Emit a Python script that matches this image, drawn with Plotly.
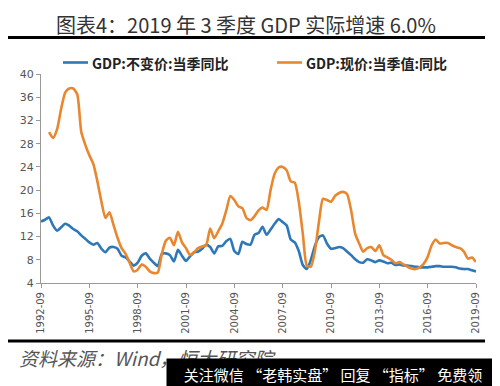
import plotly.graph_objects as go

# ---- data ----
quarters = []
y, m = 1992, 9
for _ in range(109):
    quarters.append(f"{y}-{m:02d}")
    m += 3
    if m > 12:
        m -= 12
        y += 1

real_gdp = [14.6, 14.9, 15.3, 13.9, 13.0, 13.6, 14.2, 13.9, 13.3, 12.9,
            12.2, 11.6, 11.0, 10.6, 10.9, 9.9, 9.3, 10.1, 10.2, 9.9,
            8.7, 8.4, 7.7, 7.0, 7.5, 8.7, 9.1, 8.2, 7.5, 6.9,
            9.0, 9.1, 8.8, 7.7, 9.7, 8.7, 7.8, 8.6, 9.3, 9.4,
            9.9, 10.6, 10.2, 9.1, 10.3, 10.4, 11.2, 11.6, 9.5, 9.0,
            11.1, 10.7, 10.6, 12.3, 12.6, 13.7, 12.3, 13.2, 14.2, 15.0,
            14.5, 13.9, 11.5, 11.0, 9.5, 7.1, 6.4, 8.0, 10.4, 11.9,
            12.2, 10.8, 9.9, 10.0, 10.2, 10.0, 9.4, 8.8, 8.1, 7.6,
            7.5, 8.1, 7.9, 7.6, 7.9, 7.7, 7.4, 7.5, 7.1, 7.2,
            7.0, 7.0, 6.9, 6.8, 6.7, 6.7, 6.7, 6.8, 6.9, 6.9,
            6.8, 6.8, 6.8, 6.7, 6.5, 6.4, 6.4, 6.2, 6.0]

nominal_gdp = [None, None, 30.0, 29.0, 30.5, 34.0, 36.8, 37.5, 37.5, 36.5,
               30.0, 27.8, 26.0, 24.5, 21.5, 18.0, 15.2, 16.2, 14.0, 11.8,
               10.0, 9.0, 7.5, 6.0, 6.3, 7.2, 6.8, 6.0, 5.7, 5.8,
               9.0, 11.3, 11.8, 10.5, 12.8, 11.0, 10.0, 8.8, 9.3, 10.0,
               10.3, 10.5, 13.4, 11.7, 12.9, 14.2, 16.5, 19.0, 18.3, 17.2,
               16.9, 15.2, 14.8, 15.5, 16.5, 17.0, 16.6, 20.0, 22.8, 23.9,
               24.0, 23.4, 21.5, 21.3, 18.0, 12.5, 7.0, 6.8, 9.5, 14.5,
               18.5, 18.3, 18.0, 19.0, 19.5, 19.7, 19.3, 16.5, 12.5, 10.8,
               9.4, 10.0, 10.2, 9.5, 10.5, 8.8, 8.4, 8.0, 7.4, 7.6,
               7.2, 6.8, 6.5, 6.4, 6.7, 7.3, 8.5, 10.5, 11.5, 10.8,
               10.9, 10.9, 10.5, 10.2, 10.0, 9.4, 8.2, 8.4, 7.6]

series_names = ["GDP:不变价:当季同比", "GDP:现价:当季值:同比"]
tick_labels = ["1992-09", "1995-09", "1998-09", "2001-09", "2004-09",
               "2007-09", "2010-09", "2013-09", "2016-09", "2019-09"]
y_ticks = [4, 8, 12, 16, 20, 24, 28, 32, 36, 40]

BLUE = "#2E78B7"
ORANGE = "#E8872F"
CJK = "Noto Sans CJK SC"

fig = go.Figure()
fig.add_trace(go.Scatter(x=quarters, y=real_gdp, mode="lines",
                         name=series_names[0],
                         line=dict(color=BLUE, width=2.6, shape="spline", smoothing=0.6)))
fig.add_trace(go.Scatter(x=quarters, y=nominal_gdp, mode="lines",
                         name=series_names[1],
                         line=dict(color=ORANGE, width=2.6, shape="spline", smoothing=0.6)))

# page body adds an 8px offset, margins compensate for it
fig.update_layout(
    width=500, height=386,
    margin=dict(l=33, r=32, t=66, b=111),
    paper_bgcolor="white", plot_bgcolor="white",
    showlegend=False,
    xaxis=dict(type="category", range=[0, 108],
               tickmode="array", tickvals=tick_labels, ticktext=tick_labels,
               tickangle=-90, ticks="outside", ticklen=4, tickcolor="#999",
               showline=True, linecolor="#999", linewidth=1,
               showgrid=False, zeroline=False,
               tickfont=dict(family="DejaVu Sans", size=10, color="#555")),
    yaxis=dict(range=[4, 40], tickvals=y_ticks, ticks="outside", ticklen=4,
               tickcolor="#999", showline=True, linecolor="#999", linewidth=1,
               showgrid=False, zeroline=False,
               tickfont=dict(family="DejaVu Sans", size=11, color="#555")),
)

def px_x(px):
    return (px - 41) / 435.0

def px_y(py):
    return (283 - py) / 209.0

# manual legend
for (x0, x1, tx), color, name in zip([(63, 88, 90), (277, 302, 304)],
                                      [BLUE, ORANGE], series_names):
    fig.add_shape(type="line", xref="paper", yref="paper",
                  x0=px_x(x0), x1=px_x(x1), y0=px_y(62.5), y1=px_y(62.5),
                  line=dict(color=color, width=2.6))
    fig.add_annotation(text=f"<b>{name}</b>", xref="paper", yref="paper",
                       x=px_x(tx), y=px_y(62.5), xanchor="left", yanchor="middle",
                       showarrow=False,
                       font=dict(family=CJK, size=14, color="#222"))

# title
fig.add_annotation(text="图表4：2019 年 3 季度 GDP 实际增速 6.0%",
                   xref="paper", yref="paper", x=px_x(246), y=px_y(24),
                   xanchor="center", yanchor="middle", showarrow=False,
                   font=dict(family=CJK, size=20, color="#333"))
# rules
fig.add_shape(type="line", xref="paper", yref="paper",
              x0=px_x(5), x1=px_x(485), y0=px_y(37.5), y1=px_y(37.5),
              line=dict(color="black", width=3))
fig.add_shape(type="line", xref="paper", yref="paper",
              x0=px_x(5), x1=px_x(485), y0=px_y(341), y1=px_y(341),
              line=dict(color="black", width=3))
# source
fig.add_annotation(text="<i>资料来源：Wind，恒大研究院</i>",
                   xref="paper", yref="paper", x=px_x(17), y=px_y(357),
                   xanchor="left", yanchor="middle", showarrow=False,
                   font=dict(family=CJK, size=19, color="#555"))
# watermark banner
fig.add_annotation(text="关注微信 “老韩实盘” 回复 “指标” 免费领",
                   xref="paper", yref="paper", x=px_x(500), y=px_y(358),
                   xanchor="right", yanchor="top", showarrow=False,
                   bgcolor="black", borderpad=5, width=322, align="center",
                   font=dict(family=CJK, size=15, color="white"))

fig.write_html("out.html")
